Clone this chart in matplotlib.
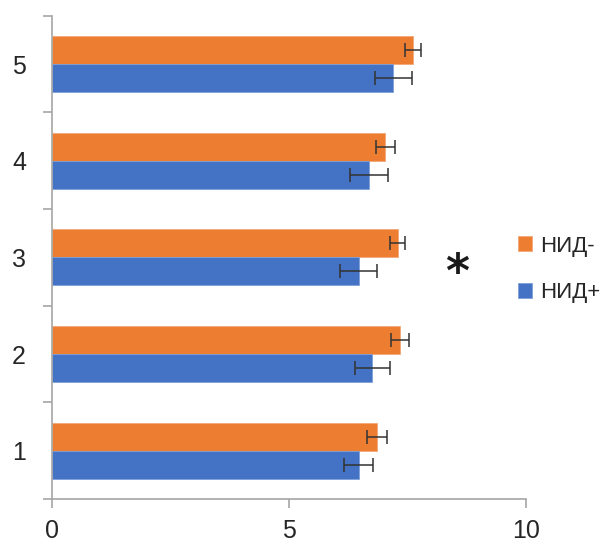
import matplotlib
matplotlib.use('Agg')
import matplotlib.pyplot as plt
import numpy as np

# Data
groups = ['1', '2', '3', '4', '5']
nid_minus = [6.86, 7.35, 7.29, 7.03, 7.61]
nid_minus_err = [0.21, 0.19, 0.165, 0.20, 0.17]
nid_plus = [6.47, 6.75, 6.47, 6.69, 7.20]
nid_plus_err = [0.31, 0.37, 0.39, 0.40, 0.39]
series_labels = ['НИД-', 'НИД+']
x_ticks = [0, 5, 10]

orange = '#ED7D31'
blue = '#4472C4'
axis_gray = '#A6A6A6'
text_col = '#262626'

plt.rcParams['font.family'] = ['Liberation Sans', 'DejaVu Sans']

fig = plt.figure(figsize=(6.07, 5.44), dpi=100)
ax = fig.add_axes([52.3 / 607, 45 / 544, (526 - 52.3) / 607, (499 - 15.7) / 544])

y = np.arange(len(groups))
h = 0.29
err_kw = dict(ecolor='#333333', elinewidth=1.1, capsize=4.7, capthick=1.1)

ax.barh(y + h / 2, nid_minus, height=h, color=orange, xerr=nid_minus_err,
        error_kw=err_kw, label=series_labels[0], edgecolor='#F4A877', linewidth=0.6)
ax.barh(y - h / 2, nid_plus, height=h, color=blue, xerr=nid_plus_err,
        error_kw=err_kw, label=series_labels[1], edgecolor='#7F9FD8', linewidth=0.6)

ax.set_xlim(0, 10)
ax.set_ylim(-0.5, len(groups) - 0.5)

# axes look
for s in ['top', 'right']:
    ax.spines[s].set_visible(False)
for s in ['left', 'bottom']:
    ax.spines[s].set_color(axis_gray)
    ax.spines[s].set_linewidth(1.2)

ax.set_xticks(x_ticks)
ax.set_xticklabels([str(v) for v in x_ticks])
ax.tick_params(axis='x', direction='out', length=6.5, width=1.2, color=axis_gray,
               pad=8, labelsize=18, labelcolor=text_col)

# boundaries as major ticks, labels on minor ticks at centres
ax.set_yticks(np.arange(-0.5, len(groups), 1.0))
ax.set_yticklabels([])
ax.set_yticks(y, minor=True)
ax.set_yticklabels(groups, minor=True)
ax.tick_params(axis='y', which='major', direction='out', length=6.5, width=1.2, color=axis_gray)
ax.tick_params(axis='y', which='minor', length=0, pad=19, labelsize=18, labelcolor=text_col)

# significance mark
fig.text(457 / 607, 1 - 274 / 544, '*', fontsize=33, fontweight='bold',
         ha='center', va='center', color='#1a1a1a', family='DejaVu Sans')

# legend: orange first
handles, labels = ax.get_legend_handles_labels()
leg = fig.legend(handles, labels, loc='center left',
                 bbox_to_anchor=(518 / 607, 1 - 269.5 / 544), frameon=False,
                 fontsize=16, handlelength=0.65, handleheight=0.65,
                 handletextpad=0.35, labelspacing=1.15, borderpad=0, borderaxespad=0)
for t in leg.get_texts():
    t.set_color(text_col)

fig.savefig('out.png', dpi=100)
